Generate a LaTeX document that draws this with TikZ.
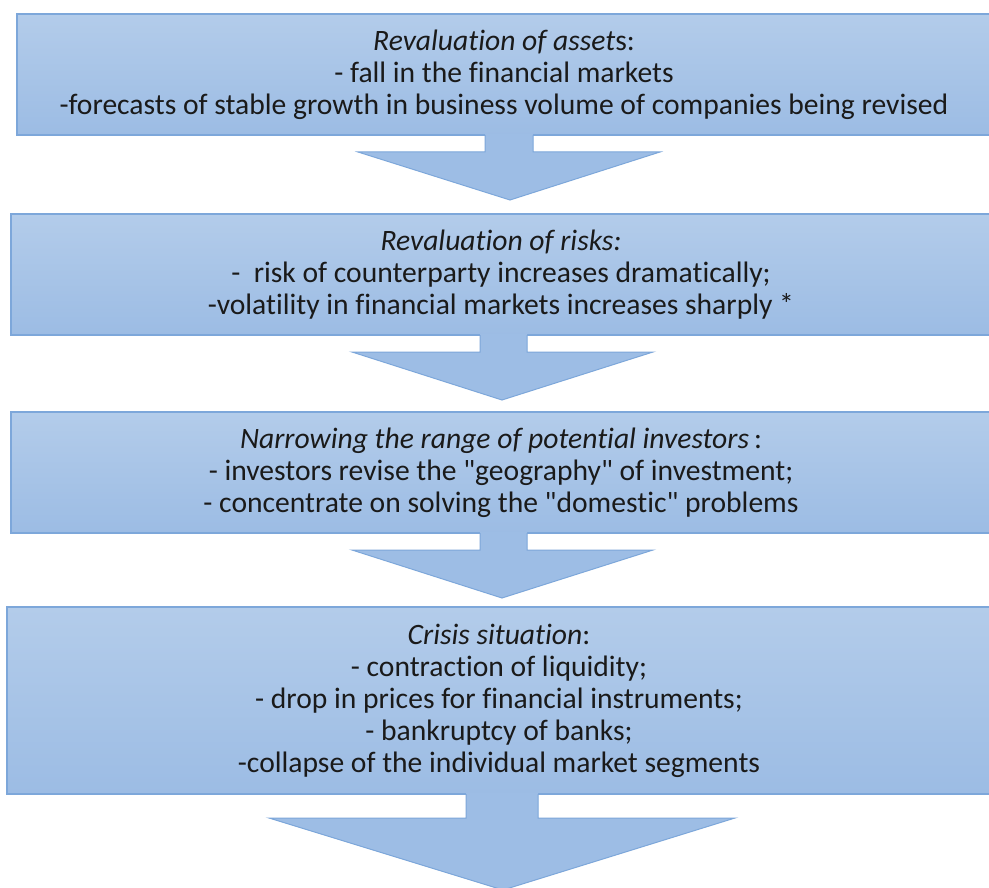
\documentclass[tikz,border=0pt]{standalone}
\usepackage{fontspec}
\setmainfont{Carlito}[Ligatures={TeXOff,NoCommon}]
\definecolor{boxtop}{HTML}{B3CCEA}
\definecolor{boxbot}{HTML}{9CBCE4}
\definecolor{boxline}{HTML}{7DA7DA}
\definecolor{arrfill}{HTML}{9DBDE5}
\definecolor{txt}{HTML}{1A1A1A}
\tikzset{
  box/.style={rectangle, draw=boxline, line width=1.2pt, top color=boxtop, bottom color=boxbot,
    align=center, inner sep=0pt, text=txt, font=\fontsize{29.6}{32}\selectfont},
  blockarrowfill/.style={fill=arrfill, draw=none},
  blockarrowline/.style={draw=boxline, line width=1pt, line join=miter},
}
\begin{document}
\begin{tikzpicture}[x=1pt,y=-1pt]
\useasboundingbox (0,0) rectangle (989,888);
\fill[white] (0,0) rectangle (989,888);

\node[box, minimum width=974pt, minimum height=121pt] (b1) at (504,74.5)
 {\textit{Revaluation of asset}s:\\- fall in the financial markets\\-forecasts of stable growth in business volume of companies being revised};
\node[box, minimum width=980pt, minimum height=121pt] (b2) at (501,274.5)
 {\textit{Revaluation of risks:}\\-\ \ risk of counterparty increases dramatically;\\-volatility in financial markets increases sharply *};
\node[box, minimum width=980pt, minimum height=121pt] (b3) at (501,472.5)
 {\textit{Narrowing the range of potential investors}\,:\\- investors revise the "geography" of investment;\\- concentrate on solving the "domestic" problems};
\node[box, minimum width=984pt, minimum height=187pt] (b4) at (499,700.5)
 {\textit{Crisis situation}:\\- contraction of liquidity;\\- drop in prices for financial instruments;\\- bankruptcy of banks;\\-collapse of the individual market segments};

% arrow 1
\fill[blockarrowfill] (485,134) -- (485,152) -- (358,152) -- (510,200) -- (660,152) -- (533,152) -- (533,134) -- cycle;
\draw[blockarrowline] (485,135) -- (485,152) -- (358,152) -- (510,200) -- (660,152) -- (533,152) -- (533,135);
% arrow 2
\fill[blockarrowfill] (480,334) -- (480,352) -- (352,352) -- (502,400) -- (653,352) -- (527,352) -- (527,334) -- cycle;
\draw[blockarrowline] (480,335) -- (480,352) -- (352,352) -- (502,400) -- (653,352) -- (527,352) -- (527,335);
% arrow 3
\fill[blockarrowfill] (480,532) -- (480,550) -- (352,550) -- (502,598) -- (653,550) -- (527,550) -- (527,532) -- cycle;
\draw[blockarrowline] (480,533) -- (480,550) -- (352,550) -- (502,598) -- (653,550) -- (527,550) -- (527,533);
% arrow 4
\fill[blockarrowfill] (466,793) -- (466,818) -- (269,818) -- (503,890) -- (735,818) -- (538,818) -- (538,793) -- cycle;
\draw[blockarrowline] (466,794) -- (466,818) -- (269,818) -- (503,890) -- (735,818) -- (538,818) -- (538,794);
\end{tikzpicture}
\end{document}
